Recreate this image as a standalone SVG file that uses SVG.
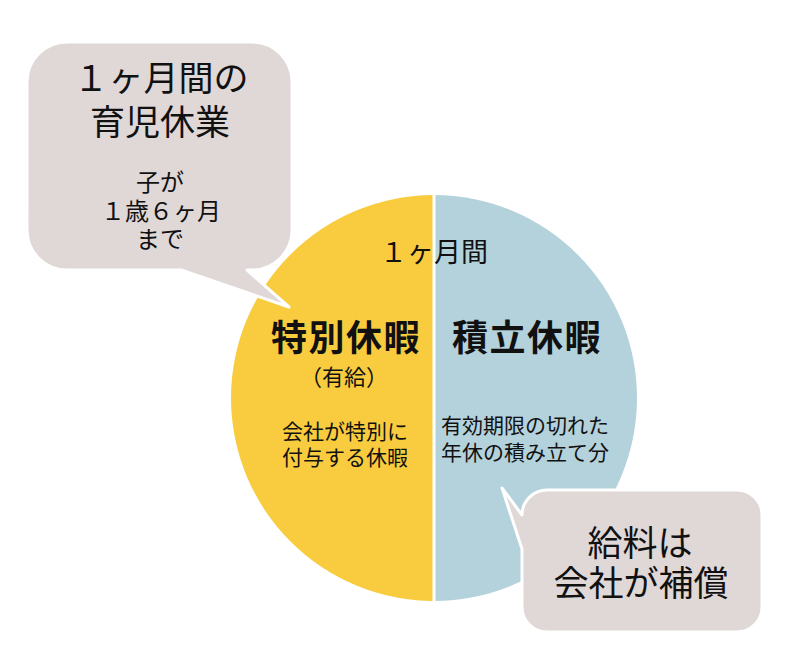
<svg xmlns="http://www.w3.org/2000/svg" width="789" height="650" viewBox="0 0 789 650">
<style>
text{font-family:"Noto Sans CJK JP","Noto Sans",sans-serif;fill:#111;text-anchor:middle}
.big{font-size:35px}
.title{font-size:36px;font-weight:bold;letter-spacing:1.5px}
.mid{font-size:24px}
.sm{font-size:21px}
.bubble{fill:#E0D7D7;stroke:#fff;stroke-width:3;stroke-linejoin:round}
</style>
<rect width="789" height="650" fill="#fff"/>
<g id="pie">
  <path id="special-leave" d="M434,195 A203,203 0 0 0 434,601 Z" fill="#F8CC3E"/>
  <path id="accumulated-leave" d="M434,195 A203,203 0 0 1 434,601 Z" fill="#B4D2DC"/>
  <line x1="434" y1="193" x2="434" y2="603" stroke="#fff" stroke-width="3"/>
  <text class="sm" x="434" y="262" style="font-size:27px">１ヶ月間</text>
  <text class="title" x="346" y="351">特別休暇</text>
  <text class="sm" x="344" y="385" style="font-size:22px">（有給）</text>
  <text class="sm" x="345" y="439">会社が特別に</text>
  <text class="sm" x="345" y="465">付与する休暇</text>
  <text class="title" x="527" y="351">積立休暇</text>
  <text class="sm" x="525" y="433">有効期限の切れた</text>
  <text class="sm" x="525" y="460">年休の積み立て分</text>
</g>
<g id="callout-childcare">
  <path class="bubble" d="M67,42 H252 A40,40 0 0 1 292,82 V230 A40,40 0 0 1 252,270 H247 L289,307 L181,270 H67 A40,40 0 0 1 27,230 V82 A40,40 0 0 1 67,42 Z"/>
  <text class="big" x="161" y="91">１ヶ月間の</text>
  <text class="big" x="160" y="135">育児休業</text>
  <text class="mid" x="160" y="191">子が</text>
  <text class="mid" x="161" y="220">１歳６ヶ月</text>
  <text class="mid" x="160" y="248">まで</text>
</g>
<g id="callout-salary">
  <path class="bubble" d="M547,490 H737 A25,25 0 0 1 762,515 V607 A25,25 0 0 1 737,632 H547 A25,25 0 0 1 522,607 V549 L502,488 L522,515 A25,25 0 0 1 547,490 Z"/>
  <text class="big" x="640" y="556">給料は</text>
  <text class="big" x="641" y="596">会社が補償</text>
</g>
<g id="connectors"/>
</svg>
